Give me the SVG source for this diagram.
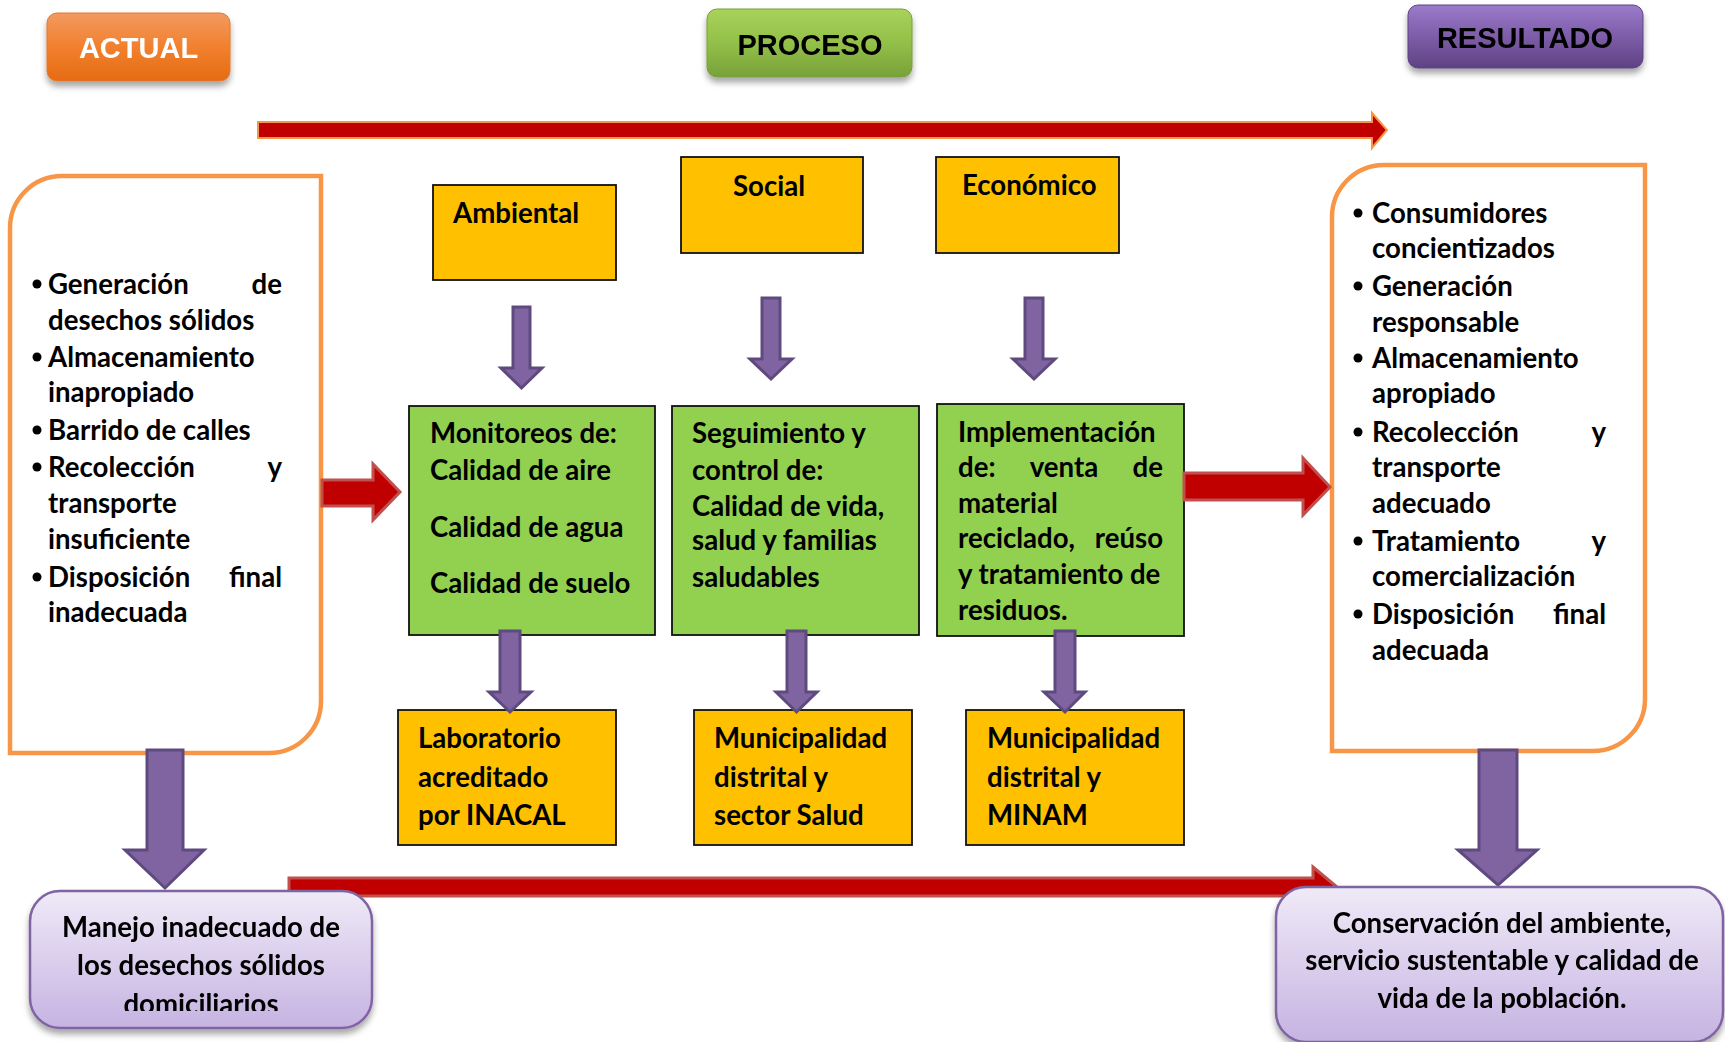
<svg xmlns="http://www.w3.org/2000/svg" width="1725" height="1042" viewBox="0 0 1725 1042">
<defs>
<linearGradient id="gOrange" x1="0" y1="0" x2="0" y2="1"><stop offset="0" stop-color="#F29A60"/><stop offset="0.5" stop-color="#F2802E"/><stop offset="1" stop-color="#E56B14"/></linearGradient>
<linearGradient id="gGreen" x1="0" y1="0" x2="0" y2="1"><stop offset="0" stop-color="#A8D25A"/><stop offset="0.5" stop-color="#93C049"/><stop offset="1" stop-color="#78A13A"/></linearGradient>
<linearGradient id="gPurple" x1="0" y1="0" x2="0" y2="1"><stop offset="0" stop-color="#9B7BCB"/><stop offset="0.5" stop-color="#7D5DA8"/><stop offset="1" stop-color="#5E4283"/></linearGradient>
<linearGradient id="gLav" x1="0" y1="0" x2="0" y2="1"><stop offset="0" stop-color="#EFEAF7"/><stop offset="1" stop-color="#C6B3E2"/></linearGradient>
<filter id="shadow" x="-10%" y="-10%" width="120%" height="140%"><feDropShadow dx="0" dy="5" stdDeviation="3" flood-color="#000" flood-opacity="0.35"/></filter>
<clipPath id="clipManejo"><rect x="0" y="880" width="400" height="131"/></clipPath>
</defs>
<style>
.btn{font-family:"Liberation Sans",Arial,sans-serif;font-weight:bold;font-size:29px;text-anchor:middle}
.t{font-family:Lato,"Liberation Sans",sans-serif;font-weight:bold;font-size:27.6px;fill:#000}
.e{text-anchor:end}
.m{text-anchor:middle}
.yel{fill:#FFC000;stroke:#111;stroke-width:1.8}
.grn{fill:#92D050;stroke:#111;stroke-width:1.8}
.obox{fill:#fff;stroke:#F79646;stroke-width:4.5}
.lav{fill:url(#gLav);stroke:#8064A2;stroke-width:2.5}
.red{fill:#C00000;stroke:#C0504D;stroke-width:3;stroke-linejoin:miter}
.redtop{fill:#C00000;stroke:#F79646;stroke-width:2}
.pur{fill:#8064A2;stroke:#5E4A7E;stroke-width:3;stroke-linejoin:miter}
.bul{fill:#000}
</style>
<rect width="1725" height="1042" fill="#fff"/>

<g id="btn-actual" filter="url(#shadow)">
<rect x="47" y="13" width="183" height="68" rx="10" fill="url(#gOrange)" stroke="#E3792F" stroke-width="1"/>
<text class="btn" x="138.5" y="58" fill="#fff">ACTUAL</text>
</g>
<g id="btn-proceso" filter="url(#shadow)">
<rect x="707" y="9" width="205" height="68" rx="10" fill="url(#gGreen)" stroke="#76A03A" stroke-width="1"/>
<text class="btn" x="810" y="55" fill="#000">PROCESO</text>
</g>
<g id="btn-resultado" filter="url(#shadow)">
<rect x="1408" y="5" width="235" height="63" rx="10" fill="url(#gPurple)" stroke="#5E4283" stroke-width="1"/>
<text class="btn" x="1525" y="48" fill="#000">RESULTADO</text>
</g>

<g id="actual-box">
<path class="obox" d="M10,753 L10,228 A52,52 0 0 1 62,176 L321,176 L321,701 A52,52 0 0 1 269,753 Z"/>
<circle class="bul" cx="37" cy="284" r="4.5"/>
<text class="t" x="48" y="294">Generación</text><text class="t e" x="282" y="294">de</text>
<text class="t" x="48" y="330">desechos sólidos</text>
<circle class="bul" cx="37" cy="357" r="4.5"/>
<text class="t" x="48" y="367">Almacenamiento</text>
<text class="t" x="48" y="402">inapropiado</text>
<circle class="bul" cx="37" cy="430" r="4.5"/>
<text class="t" x="48" y="440">Barrido de calles</text>
<circle class="bul" cx="37" cy="467" r="4.5"/>
<text class="t" x="48" y="477">Recolección</text><text class="t e" x="282" y="477">y</text>
<text class="t" x="48" y="513">transporte</text>
<text class="t" x="48" y="549">insuficiente</text>
<circle class="bul" cx="37" cy="577" r="4.5"/>
<text class="t" x="48" y="587">Disposición</text><text class="t e" x="282" y="587">final</text>
<text class="t" x="48" y="622">inadecuada</text>
</g>

<g id="resultado-box">
<path class="obox" d="M1332,751 L1332,217 A52,52 0 0 1 1384,165 L1645,165 L1645,699 A52,52 0 0 1 1593,751 Z"/>
<circle class="bul" cx="1358" cy="213" r="4.5"/>
<text class="t" x="1372" y="223">Consumidores</text>
<text class="t" x="1372" y="258">concientizados</text>
<circle class="bul" cx="1358" cy="286" r="4.5"/>
<text class="t" x="1372" y="296">Generación</text>
<text class="t" x="1372" y="332">responsable</text>
<circle class="bul" cx="1358" cy="358" r="4.5"/>
<text class="t" x="1372" y="368">Almacenamiento</text>
<text class="t" x="1372" y="403">apropiado</text>
<circle class="bul" cx="1358" cy="432" r="4.5"/>
<text class="t" x="1372" y="442">Recolección</text><text class="t e" x="1606" y="442">y</text>
<text class="t" x="1372" y="477">transporte</text>
<text class="t" x="1372" y="513">adecuado</text>
<circle class="bul" cx="1358" cy="541" r="4.5"/>
<text class="t" x="1372" y="551">Tratamiento</text><text class="t e" x="1606" y="551">y</text>
<text class="t" x="1372" y="586">comercialización</text>
<circle class="bul" cx="1358" cy="614" r="4.5"/>
<text class="t" x="1372" y="624">Disposición</text><text class="t e" x="1606" y="624">final</text>
<text class="t" x="1372" y="660">adecuada</text>
</g>

<g id="ambiental">
<rect class="yel" x="433" y="185" width="183" height="95"/>
<text class="t" x="453" y="223">Ambiental</text>
</g>
<g id="social">
<rect class="yel" x="681" y="157" width="182" height="96"/>
<text class="t" x="733" y="196">Social</text>
</g>
<g id="economico">
<rect class="yel" x="936" y="157" width="183" height="96"/>
<text class="t" x="962" y="195">Económico</text>
</g>

<g id="monitoreos">
<rect class="grn" x="409" y="406" width="246" height="229"/>
<text class="t" x="430" y="443">Monitoreos de:</text>
<text class="t" x="430" y="480">Calidad de aire</text>
<text class="t" x="430" y="537">Calidad de agua</text>
<text class="t" x="430" y="593">Calidad de suelo</text>
</g>
<g id="seguimiento">
<rect class="grn" x="672" y="406" width="247" height="229"/>
<text class="t" x="692" y="443">Seguimiento y</text>
<text class="t" x="692" y="480">control de:</text>
<text class="t" x="692" y="516">Calidad de vida,</text>
<text class="t" x="692" y="550">salud y familias</text>
<text class="t" x="692" y="587">saludables</text>
</g>
<g id="implementacion">
<rect class="grn" x="937" y="404" width="247" height="232"/>
<text class="t" x="958" y="442">Implementación</text>
<text class="t" x="958" y="477">de:</text><text class="t m" x="1064" y="477">venta</text><text class="t e" x="1163" y="477">de</text>
<text class="t" x="958" y="513">material</text>
<text class="t" x="958" y="548">reciclado,</text><text class="t e" x="1163" y="548">reúso</text>
<text class="t" x="958" y="584">y tratamiento de</text>
<text class="t" x="958" y="620">residuos.</text>
</g>

<g id="laboratorio">
<rect class="yel" x="398" y="710" width="218" height="135"/>
<text class="t" x="418" y="748">Laboratorio</text>
<text class="t" x="418" y="787">acreditado</text>
<text class="t" x="418" y="825">por INACAL</text>
</g>
<g id="municipalidad-salud">
<rect class="yel" x="694" y="710" width="218" height="135"/>
<text class="t" x="714" y="748">Municipalidad</text>
<text class="t" x="714" y="787">distrital y</text>
<text class="t" x="714" y="825">sector Salud</text>
</g>
<g id="municipalidad-minam">
<rect class="yel" x="966" y="710" width="218" height="135"/>
<text class="t" x="987" y="748">Municipalidad</text>
<text class="t" x="987" y="787">distrital y</text>
<text class="t" x="987" y="825">MINAM</text>
</g>

<g id="connectors">
<polygon class="redtop" points="258,122 1372,122 1372,113 1387,130 1372,148 1372,138 258,138"/>
<polygon class="red" points="322,480 373,480 373,464 400,492 373,520 373,506 322,506"/>
<polygon class="red" points="1184,473 1303,473 1303,458 1330,487 1303,515 1303,500 1184,500"/>
<polygon class="red" points="289,878 1313,878 1313,867 1337,887 1313,907 1313,896 289,896"/>
<polygon class="pur" points="513,307 530,307 530,368 542,368 521.5,388 501,368 513,368"/>
<polygon class="pur" points="762,298 780,298 780,359 792,359 771,379 750,359 762,359"/>
<polygon class="pur" points="1025,298 1043,298 1043,359 1055,359 1034,379 1013,359 1025,359"/>
<polygon class="pur" points="500,631 520,631 520,692 531,692 510,712 489,692 500,692"/>
<polygon class="pur" points="787,631 806,631 806,692 817,692 796.5,712 776,692 787,692"/>
<polygon class="pur" points="1055,631 1075,631 1075,692 1085,692 1065,712 1044,692 1055,692"/>
<polygon class="pur" points="147,750 183,750 183,850 204,850 165,888 125,850 147,850"/>
<polygon class="pur" points="1479,750 1517,750 1517,850 1537,850 1498,885 1458,850 1479,850"/>
</g>

<g id="manejo" filter="url(#shadow)">
<rect class="lav" x="30" y="891" width="342" height="137" rx="30"/>
<g clip-path="url(#clipManejo)">
<text class="t m" x="201" y="937">Manejo inadecuado de</text>
<text class="t m" x="201" y="975">los desechos sólidos</text>
<text class="t m" x="201" y="1014">domiciliarios</text>
</g>
</g>
<g id="conservacion" filter="url(#shadow)">
<rect class="lav" x="1276" y="887" width="447" height="155" rx="30"/>
<text class="t m" x="1502" y="933">Conservación del ambiente,</text>
<text class="t m" x="1502" y="970">servicio sustentable y calidad de</text>
<text class="t m" x="1502" y="1008">vida de la población.</text>
</g>
</svg>
